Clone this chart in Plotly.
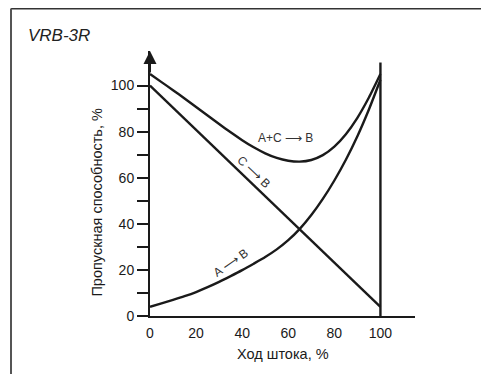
import plotly.graph_objects as go

# stroke position, %
x_vals = [0, 5, 10, 15, 20, 25, 30, 35, 40, 45, 50,
          55, 60, 65, 70, 75, 80, 85, 90, 95, 100]
# A+C -> B
ac_b = [105, 101.5, 98, 94.4, 90.7, 87, 83.3, 79.7, 76.3, 73.2, 70.6,
        68.6, 67.4, 67, 67.7, 69.8, 73.5, 78.9, 86, 94.8, 105]
# A -> B
a_b = [4, 5.5, 7, 8.6, 10.4, 12.5, 14.8, 17.3, 19.9, 22.7, 25.6,
       28.9, 32.9, 37.8, 43.8, 50.8, 58.8, 67.8, 78, 89.6, 102.5]
# C -> B (straight)
c_x = [0, 100]
c_b = [100, 4]

y_ticks = [0, 10, 20, 30, 40, 50, 60, 70, 80, 90, 100]
y_labels = ["0", "", "20", "", "40", "", "60", "", "80", "", "100"]
x_ticks = [0, 20, 40, 60, 80, 100]

ink = "#1a1a1a"
font_main = "Liberation Sans, Arial, sans-serif"

fig = go.Figure()

fig.add_trace(go.Scatter(x=x_vals, y=ac_b, mode="lines",
                         line=dict(color=ink, width=2.4, shape="spline", smoothing=0.6)))
fig.add_trace(go.Scatter(x=x_vals, y=a_b, mode="lines",
                         line=dict(color=ink, width=2.4, shape="spline", smoothing=0.6)))
fig.add_trace(go.Scatter(x=c_x, y=c_b, mode="lines",
                         line=dict(color=ink, width=2.4)))
# vertical line at 100 %
fig.add_trace(go.Scatter(x=[100, 100], y=[0, 110], mode="lines",
                         line=dict(color=ink, width=2.4)))

# page body has an 8px margin, so the figure is a bit smaller
fig.update_layout(
    width=481, height=366,
    margin=dict(l=142, r=74, t=43, b=58),
    paper_bgcolor="white", plot_bgcolor="white",
    showlegend=False,
    font=dict(family=font_main, color=ink, size=14),
)

fig.update_xaxes(range=[0, 115], showgrid=False, zeroline=False,
                 showline=True, linecolor=ink, linewidth=2,
                 tickvals=x_ticks, ticks="outside", ticklen=3,
                 tickcolor="rgba(0,0,0,0)", tickfont=dict(size=14))
fig.update_yaxes(range=[0, 115], showgrid=False, zeroline=False,
                 showline=True, linecolor=ink, linewidth=2,
                 tickvals=y_ticks, ticktext=y_labels, ticks="outside",
                 ticklen=11, tickwidth=1.5, tickcolor=ink,
                 tickfont=dict(size=14))

# arrow on the y axis
fig.add_annotation(x=0, y=115, ax=0, ay=105, xref="x", yref="y",
                   axref="x", ayref="y", showarrow=True, arrowhead=2,
                   arrowsize=1.3, arrowwidth=2, arrowcolor=ink, text="")

# curve labels
fig.add_annotation(x=59, y=77.4, text="A+C \u27f6 B", showarrow=False,
                   font=dict(size=12, color="#333333"))
fig.add_annotation(x=45.1, y=62.7, text="C \u27f6 B", showarrow=False,
                   textangle=44, font=dict(size=12, color="#333333"))
fig.add_annotation(x=34.9, y=23.2, text="A \u27f6 B", showarrow=False,
                   textangle=-35, font=dict(size=12, color="#333333"))

# axis titles
fig.add_annotation(x=0.502, y=-0.106, xref="paper", yref="paper",
                   text="Ход штока, %", showarrow=False,
                   xanchor="center", yanchor="top", font=dict(size=14.5))
fig.add_annotation(x=-0.198, y=0.43, xref="paper", yref="paper",
                   text="Пропускная способность, %", showarrow=False,
                   textangle=-90, xanchor="center", yanchor="middle",
                   font=dict(size=14.5))

# title
fig.add_annotation(x=-0.467, y=1.06, xref="paper", yref="paper",
                   text="<i>VRB-3R</i>", showarrow=False,
                   xanchor="left", yanchor="middle",
                   font=dict(family=font_main, size=17, color="#222222"))

# outer frame (top and left edges)
fig.add_shape(type="line", xref="paper", yref="paper",
              x0=-0.5245, x1=1.4, y0=1.16, y1=1.16,
              line=dict(color="#333333", width=2))
fig.add_shape(type="line", xref="paper", yref="paper",
              x0=-0.5245, x1=-0.5245, y0=-0.3, y1=1.16,
              line=dict(color="#555555", width=2))

fig.write_html("out.html")
